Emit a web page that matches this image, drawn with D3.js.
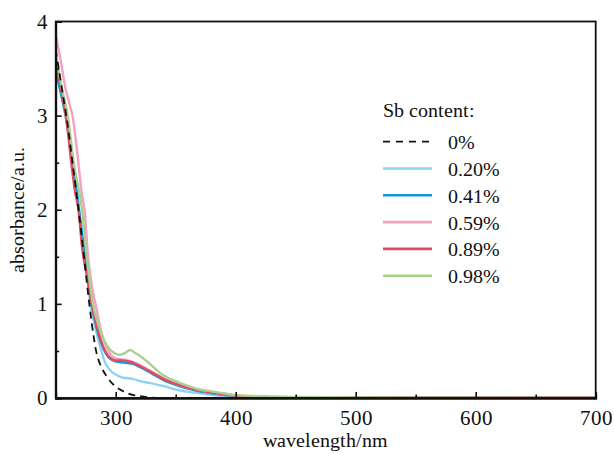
<!DOCTYPE html>
<html>
<head>
<meta charset="utf-8">
<script src="https://cdn.jsdelivr.net/npm/d3@7"></script>
<style>
  @font-face { font-family: "ChartSerif"; src: local("Liberation Serif"), local("LiberationSerif"), local("Times New Roman"); }
  body { margin: 0; font-family: "ChartSerif", "Liberation Serif", serif; }
  svg text { font-family: "ChartSerif", "Liberation Serif", serif !important; }
</style>
</head>
<body>
<div id="chart"></div>
<script>
const width = 614, height = 454;

// wavelength (nm) and absorbance for each Sb content
const wl0 = [250, 255, 260, 265, 270, 274, 278, 280, 284, 288, 292, 296, 300, 305, 310, 315, 320, 326, 335, 350, 400, 500, 600, 700];
const ab0 = [3.7, 3.3, 2.9, 2.4, 1.9, 1.45, 1.0, 0.8, 0.48, 0.33, 0.24, 0.17, 0.12, 0.08, 0.05, 0.03, 0.02, 0.01, 0, 0, 0, 0, 0, 0];

const wl20 = [250, 255, 260, 265, 270, 275, 279, 283, 287, 291, 295, 300, 305, 310, 315, 320, 328, 335, 342, 350, 360, 370, 380, 390, 400, 450, 700];
const ab20 = [3.5, 3.2, 2.85, 2.4, 1.9, 1.4, 1.0, 0.75, 0.55, 0.38, 0.30, 0.25, 0.22, 0.21, 0.20, 0.18, 0.16, 0.14, 0.12, 0.09, 0.065, 0.05, 0.035, 0.02, 0.012, 0.003, 0];

const wl41 = [250, 255, 260, 265, 270, 275, 280, 284, 288, 292, 296, 300, 305, 310, 315, 320, 326, 333, 340, 350, 360, 370, 380, 390, 400, 450, 700];
const ab41 = [3.48, 3.2, 2.9, 2.45, 1.95, 1.45, 1.0, 0.75, 0.58, 0.47, 0.41, 0.39, 0.38, 0.37, 0.36, 0.33, 0.29, 0.24, 0.19, 0.14, 0.10, 0.07, 0.05, 0.035, 0.02, 0.005, 0];

const wl59 = [250, 254, 258, 262, 264, 268, 272, 274, 277, 280, 284, 288, 292, 296, 300, 305, 310, 315, 320, 326, 333, 340, 350, 360, 370, 380, 390, 400, 450, 700];
const ab59 = [3.86, 3.6, 3.3, 3.1, 3.0, 2.6, 2.15, 2.0, 1.5, 1.2, 0.95, 0.7, 0.55, 0.46, 0.42, 0.41, 0.40, 0.38, 0.35, 0.31, 0.26, 0.21, 0.15, 0.11, 0.08, 0.06, 0.04, 0.025, 0.008, 0.003];

const wl89 = [250, 255, 259, 263, 266, 269, 272, 276, 280, 284, 288, 292, 296, 300, 305, 310, 315, 320, 326, 333, 340, 350, 360, 370, 380, 390, 400, 420, 450, 700];
const ab89 = [3.6, 3.25, 2.95, 2.5, 2.2, 2.0, 1.6, 1.3, 1.0, 0.78, 0.6, 0.48, 0.42, 0.40, 0.40, 0.39, 0.37, 0.34, 0.30, 0.25, 0.2, 0.15, 0.11, 0.08, 0.06, 0.04, 0.025, 0.012, 0.005, 0.005];

const wl98 = [250, 255, 260, 265, 272, 276, 281, 285, 290, 295, 300, 304, 308, 312, 316, 320, 326, 333, 340, 350, 360, 370, 380, 390, 400, 420, 450, 500, 700];
const ab98 = [3.65, 3.3, 3.0, 2.5, 2.0, 1.5, 1.0, 0.8, 0.62, 0.52, 0.47, 0.46, 0.48, 0.51, 0.48, 0.45, 0.39, 0.31, 0.24, 0.18, 0.13, 0.09, 0.07, 0.05, 0.03, 0.02, 0.01, 0.005, 0.003];

const seriesNames = ["0%", "0.20%", "0.41%", "0.59%", "0.89%", "0.98%"];
const seriesColors = ["#111111", "#8fd3f4", "#0a9ad6", "#f2a1c2", "#e24a5e", "#a9d18e"];

const xTicks = [300, 400, 500, 600, 700];
const xMinor = [350, 450, 550, 650];
const yTicks = [0, 1, 2, 3, 4];
const yMinor = [0.5, 1.5, 2.5, 3.5];

const margin = {left: 55.7, right: 18.3, top: 21.5, bottom: 56};
const svg = d3.select("#chart").append("svg").attr("width", width).attr("height", height);

const x = d3.scaleLinear().domain([250, 700]).range([margin.left, width - margin.right]);
const y = d3.scaleLinear().domain([0, 4]).range([height - margin.bottom, margin.top]);

const series = [
  {wl: wl20, ab: ab20, i: 1},
  {wl: wl41, ab: ab41, i: 2},
  {wl: wl59, ab: ab59, i: 3},
  {wl: wl89, ab: ab89, i: 4},
  {wl: wl98, ab: ab98, i: 5},
  {wl: wl0, ab: ab0, i: 0}
];

const line = d3.line().x(d => x(d[0])).y(d => y(d[1])).curve(d3.curveMonotoneX);

svg.append("clipPath").attr("id", "clip").append("rect")
  .attr("x", x(250)).attr("y", y(4)).attr("width", x(700) - x(250)).attr("height", y(0) - y(4));

svg.append("g").attr("clip-path", "url(#clip)")
  .selectAll("path").data(series).join("path")
  .attr("d", s => line(s.wl.map((w, k) => [w, s.ab[k]])))
  .attr("fill", "none")
  .attr("stroke", s => seriesColors[s.i])
  .attr("stroke-width", s => s.i === 0 ? 1.8 : 2.4)
  .attr("stroke-dasharray", s => s.i === 0 ? "7,5" : null);

// frame
svg.append("rect")
  .attr("x", x(250)).attr("y", y(4)).attr("width", x(700) - x(250)).attr("height", y(0) - y(4))
  .attr("fill", "none").attr("stroke", "#111").attr("stroke-width", 1.8);

// axes with inward ticks
const xAxis = svg.append("g").attr("transform", `translate(0,${y(0)})`)
  .call(d3.axisBottom(x).tickValues(xTicks).tickSize(-6).tickPadding(12).tickFormat(d3.format("d")));
xAxis.append("g").call(d3.axisBottom(x).tickValues(xMinor).tickSize(-3.5).tickFormat(""));
const yAxis = svg.append("g").attr("transform", `translate(${x(250)},0)`)
  .call(d3.axisLeft(y).tickValues(yTicks).tickSize(-6).tickPadding(8).tickFormat(d3.format("d")));
yAxis.append("g").call(d3.axisLeft(y).tickValues(yMinor).tickSize(-3.5).tickFormat(""));

xAxis.attr("font-family", null).attr("font-size", null);
yAxis.attr("font-family", null).attr("font-size", null);
svg.selectAll(".domain").attr("stroke", "#111").attr("stroke-width", 1.8);
svg.selectAll(".tick line").attr("stroke", "#111").attr("stroke-width", 1.6);
svg.selectAll(".tick text").attr("font-size", 21).attr("fill", "#111");
xAxis.selectAll(".tick text").attr("dy", "0.71em");

svg.append("text")
  .attr("x", (x(250) + x(700)) / 2).attr("y", 447)
  .attr("text-anchor", "middle").attr("font-size", 20).attr("fill", "#111")
  .text("wavelength/nm");

svg.append("text")
  .attr("transform", `translate(24,${(y(0) + y(4)) / 2}) rotate(-90)`)
  .attr("text-anchor", "middle").attr("font-size", 20).attr("fill", "#111")
  .text("absorbance/a.u.");

// legend
const legend = svg.append("g").attr("transform", "translate(383,0)");
legend.append("text").attr("x", 0).attr("y", 117).attr("font-size", 20).attr("fill", "#111").text("Sb content:");
const rows = legend.selectAll("g.row").data(seriesNames).join("g")
  .attr("class", "row")
  .attr("transform", (d, k) => `translate(0,${141.7 + k * 26.8})`);
rows.append("line")
  .attr("x1", 0).attr("x2", 49).attr("y1", 0).attr("y2", 0)
  .attr("stroke", (d, k) => seriesColors[k])
  .attr("stroke-width", (d, k) => k === 0 ? 1.8 : 2.6)
  .attr("stroke-dasharray", (d, k) => k === 0 ? "7,6" : null);
rows.append("text")
  .attr("x", 65).attr("y", 7.5).attr("font-size", 20).attr("fill", "#111")
  .text(d => d);

svg.selectAll("text").attr("font-family", "Liberation Serif");
</script>
</body>
</html>
